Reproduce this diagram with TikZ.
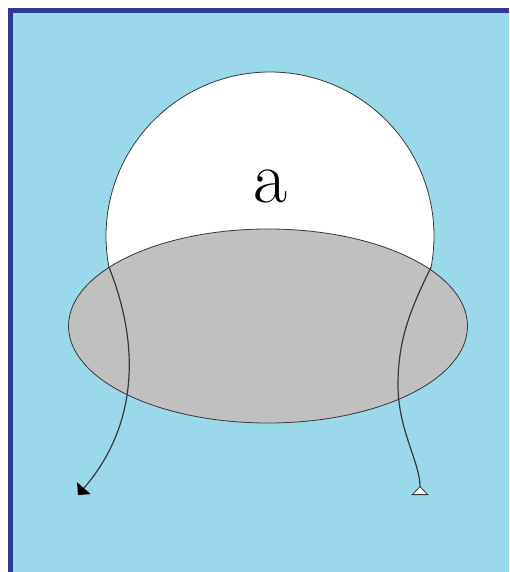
\documentclass[tikz,border=0pt]{standalone}
\usepackage{tikz}
\usetikzlibrary{arrows.meta,positioning,shapes.geometric}
\usepackage{xcolor}
\definecolor{paneblue}{HTML}{99D9EA}
\definecolor{frameblue}{HTML}{2E3A96}
\definecolor{setgray}{HTML}{C0C0C0}
\definecolor{linegray}{HTML}{383838}

\begin{document}
\begin{tikzpicture}[x=1pt, y=-1pt, every node/.style={inner sep=0pt, outer sep=0pt}]
\tikzset{set/.style={draw=linegray, line width=0.8pt},
  edge/.style={draw=linegray, line width=1.2pt}}
\useasboundingbox (0,0) rectangle (509,572);
% pane and frame
\fill[paneblue] (8,8) rectangle (509,572);
\fill[frameblue] (8,8) rectangle (13,572);
\fill[frameblue] (8,8) rectangle (509,13);
% sets
\node[set, circle, fill=white, minimum size=328pt,
  label={[yshift=50pt, font=\fontsize{74}{74}\selectfont]center:a}] (a) at (270,236) {};
\node[set, ellipse, fill=setgray, minimum width=399pt, minimum height=194pt] (b) at (268,326) {};
% edge ends
\coordinate (lend) at (78,495);
\coordinate (rend) at (420,495);
\draw[edge, -{Triangle[length=9pt, width=18pt, color=black]}] (a.191) .. controls (138,340) and (141,422) .. (lend);
\draw[edge, -{Triangle[reversed, length=9pt, width=17pt, line width=0.8pt, fill=white]}] (a.349)
  .. controls (410,310) and (398,340) .. (398,385)
  .. controls (398,430) and (420,462) .. (rend);
\end{tikzpicture}
\end{document}
